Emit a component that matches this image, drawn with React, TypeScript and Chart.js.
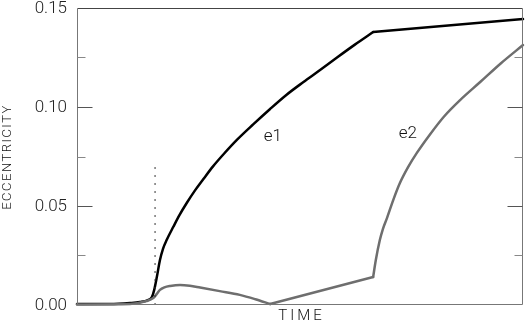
import React, { useEffect, useRef } from "react";
import { Chart, registerables } from "chart.js";

Chart.register(...registerables);

// ---- data ----
const e1X = [0, 7.4, 11.9, 14.1, 15.9, 16.8, 17.3, 17.9, 18.6, 19.3, 20.1, 21.6, 23.0, 24.6, 26.5, 28.3, 30.5, 33.0, 35.9, 39.5, 43.3, 47.0, 50.7, 54.5, 58.3, 62.3, 66.4, 100];
const e1Y = [0.0005, 0.0005, 0.001, 0.0015, 0.0025, 0.004, 0.0075, 0.0141, 0.0227, 0.0285, 0.0328, 0.0395, 0.0455, 0.0515, 0.058, 0.0635, 0.070, 0.0765, 0.0835, 0.0912, 0.099, 0.1062, 0.1125, 0.1187, 0.125, 0.1315, 0.1379, 0.1444];

const e2X = [0, 11.9, 15.6, 17.1, 17.9, 18.6, 19.6, 20.9, 23.1, 25.3, 27.6, 32.0, 36.5, 40.0, 43.3, 66.4, 67.0, 67.9, 68.6, 69.5, 70.9, 72.4, 74.2, 76.2, 79.1, 82.3, 85.9, 90.4, 95.0, 100];
const e2Y = [0.0003, 0.0005, 0.002, 0.0035, 0.0056, 0.0076, 0.0089, 0.0096, 0.0101, 0.0097, 0.0088, 0.0070, 0.0051, 0.0029, 0.0005, 0.0141, 0.0227, 0.0328, 0.0385, 0.0439, 0.053, 0.0616, 0.0695, 0.0768, 0.086, 0.0952, 0.1035, 0.1126, 0.122, 0.1313];

// indices where a curve turns into a straight segment (corners)
const e1Corners = [26];
const e2Corners = [14, 15];

const markerX = [17.5, 17.5];
const markerY = [0, 0.07];

const yTickValues = [0, 0.05, 0.1, 0.15];
const yMajorInner = [0.05, 0.1];
const yMinorInner = [0.025, 0.075, 0.125];

const seriesLabels = ["e1", "e2"];
const labelPos = [
  { x: 43.9, y: 0.0848 },
  { x: 74.2, y: 0.0864 },
];
const xTitle = "TIME";
const yTitle = "ECCENTRICITY";

const FONT = "Roboto, 'DejaVu Sans', sans-serif";

const toPts = (xs: number[], ys: number[]) => xs.map((x, i) => ({ x, y: ys[i] }));

// split a series at the corner indices into pieces that share the corner point
const pieces = (xs: number[], ys: number[], corners: number[]) => {
  const cuts = [0, ...corners, xs.length - 1];
  const out: { x: number; y: number }[][] = [];
  for (let i = 0; i < cuts.length - 1; i++) {
    out.push(toPts(xs.slice(cuts[i], cuts[i + 1] + 1), ys.slice(cuts[i], cuts[i + 1] + 1)));
  }
  return out;
};

const framePlugin = {
  id: "framePlugin",
  afterDraw(chart: any) {
    const ctx = chart.ctx;
    const a = chart.chartArea;
    const xs = chart.scales.x;
    const ys = chart.scales.y;
    const L = Math.round(a.left) + 0.5;
    const R = Math.round(a.right) - 0.5;
    const T = Math.round(a.top) + 0.5;
    const B = Math.round(a.bottom) - 0.5;
    ctx.save();
    ctx.lineWidth = 1;
    ctx.strokeStyle = "#444";
    ctx.beginPath();
    ctx.moveTo(L, T);
    ctx.lineTo(R, T);
    ctx.stroke();
    ctx.strokeStyle = "#777";
    ctx.beginPath();
    ctx.moveTo(L, T);
    ctx.lineTo(L, B);
    ctx.lineTo(R, B);
    ctx.lineTo(R, T);
    ctx.stroke();
    const tick = (v: number, len: number) => {
      const y = Math.round(ys.getPixelForValue(v)) + 0.5;
      ctx.beginPath();
      ctx.moveTo(L, y);
      ctx.lineTo(L + len, y);
      ctx.moveTo(R, y);
      ctx.lineTo(R - len, y);
      ctx.stroke();
    };
    ctx.strokeStyle = "#555";
    yMajorInner.forEach((v) => tick(v, 15));
    ctx.strokeStyle = "#888";
    yMinorInner.forEach((v) => tick(v, 8));

    ctx.fillStyle = "#222";
    ctx.font = "300 17px " + FONT;
    ctx.textAlign = "right";
    ctx.textBaseline = "middle";
    yTickValues.forEach((v) => {
      ctx.fillText(v.toFixed(2), a.left - 10, ys.getPixelForValue(v) + 1);
    });

    ctx.fillStyle = "#111";
    ctx.font = "300 17px " + FONT;
    ctx.textAlign = "center";
    seriesLabels.forEach((t, i) => {
      ctx.fillText(t, xs.getPixelForValue(labelPos[i].x), ys.getPixelForValue(labelPos[i].y));
    });

    (ctx as any).letterSpacing = "3px";
    ctx.font = "300 15px " + FONT;
    ctx.fillText(xTitle, (a.left + a.right) / 2 + 1.5, 316);
    (ctx as any).letterSpacing = "1.5px";
    ctx.font = "300 13px " + FONT;
    ctx.translate(8, 157);
    ctx.rotate(-Math.PI / 2);
    ctx.fillText(yTitle, 0, 0);
    ctx.restore();
  },
};

export default function App() {
  const ref = useRef<HTMLCanvasElement | null>(null);
  useEffect(() => {
    if (!ref.current) return;
    const lineDs = (data: any[], color: string, label: string) => ({
      label,
      data,
      borderColor: color,
      borderWidth: 2.5,
      pointRadius: 0,
      cubicInterpolationMode: data.length > 2 ? "monotone" : "default",
      tension: 0,
      borderJoinStyle: "round",
      borderCapStyle: "round",
      clip: 4,
    });
    const e2Sets = pieces(e2X, e2Y, e2Corners).map((d) => lineDs(d, "#6e6e6e", "e2"));
    const e1Sets = pieces(e1X, e1Y, e1Corners).map((d) => lineDs(d, "#000", "e1"));
    const chart = new Chart(ref.current, {
      type: "line",
      data: {
        datasets: [
          {
            label: "marker",
            data: toPts(markerX, markerY),
            borderColor: "#333",
            borderWidth: 1,
            borderDash: [2, 6],
            pointRadius: 0,
          },
          ...e2Sets,
          ...e1Sets,
        ] as any,
      },
      options: {
        animation: false,
        responsive: false,
        maintainAspectRatio: false,
        layout: { padding: { top: 8, right: 2, left: 0, bottom: 0 } },
        plugins: { legend: { display: false }, tooltip: { enabled: false } },
        scales: {
          x: {
            type: "linear",
            min: 0,
            max: 100,
            grid: { display: false },
            border: { display: false },
            ticks: { display: false },
            afterFit: (s: any) => {
              s.height = 22;
            },
          },
          y: {
            type: "linear",
            min: 0,
            max: 0.15,
            grid: { display: false, drawTicks: false },
            border: { display: false },
            ticks: { display: false },
            afterFit: (s: any) => {
              s.width = 77;
            },
          },
        },
      },
      plugins: [framePlugin],
    });
    return () => chart.destroy();
  }, []);
  return (
    <div style={{ position: "absolute", left: 0, top: 0, width: 525, height: 327, background: "#fff" }}>
      <canvas ref={ref} width={525} height={327} style={{ display: "block" }} />
    </div>
  );
}
